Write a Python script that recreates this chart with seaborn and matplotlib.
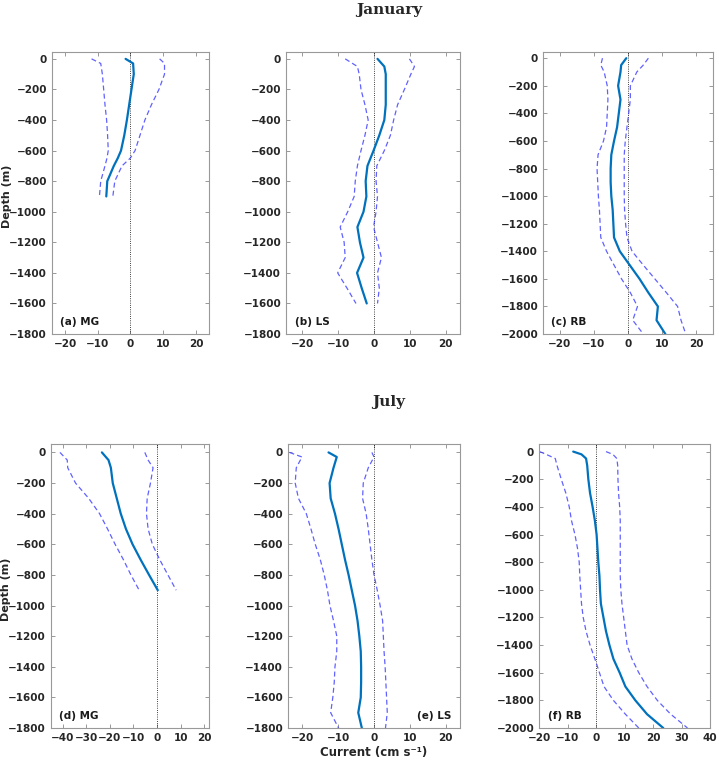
import matplotlib
matplotlib.use('Agg')
import matplotlib.pyplot as plt
import seaborn as sns

# Depth levels (m) and current (cm/s): mean profile, lower and upper bounds

# (a) MG, January
depth_a = [0, -30, -100, -200, -300, -400, -500, -600, -650, -700, -800, -900]
mean_a = [-1.5, 0.8, 1.0, 0.3, -0.4, -1.1, -1.9, -2.9, -3.9, -5.1, -7.1, -7.4]
low_a = [-11.9, -9.1, -8.6, -8.2, -7.8, -7.3, -7.0, -6.8, -7.2, -7.8, -9.1, -9.5]
high_a = [8.9, 10.4, 10.4, 8.7, 6.4, 4.4, 2.9, 1.4, -0.1, -2.6, -4.8, -5.4]

# (b) LS, January
depth_b = [0, -50, -100, -200, -300, -400, -500, -600, -700, -800, -900,
           -1000, -1100, -1200, -1300, -1400, -1500, -1600]
mean_b = [1.0, 2.9, 3.3, 3.3, 3.3, 2.9, 1.5, -0.1, -1.8, -2.3, -2.1,
          -2.9, -4.6, -3.9, -2.9, -4.7, -3.4, -2.0]
low_b = [-8.0, -4.6, -4.1, -3.6, -2.5, -1.6, -2.5, -3.6, -4.6, -5.2, -5.5,
         -7.3, -9.4, -8.3, -8.0, -10.1, -7.5, -5.0]
high_b = [9.9, 11.3, 10.3, 8.5, 6.6, 5.5, 4.6, 2.9, 0.8, 0.6, 1.0,
          0.6, -0.1, 1.0, 2.1, 1.0, 1.5, 1.0]

# (c) RB, January
depth_c = [0, -50, -100, -200, -300, -400, -500, -600, -700, -800, -900, -1000,
           -1100, -1200, -1300, -1400, -1500, -1600, -1700, -1800, -1900, -2000]
mean_c = [-0.5, -2.0, -2.2, -2.9, -2.2, -2.7, -3.2, -4.1, -4.9, -5.1, -5.1, -4.9,
          -4.5, -4.3, -4.1, -2.4, 0.5, 3.4, 6.0, 8.8, 8.4, 11.0]
low_c = [-7.5, -8.0, -7.0, -6.1, -5.9, -6.1, -6.3, -7.2, -8.8, -9.1, -8.9, -8.7,
         -8.4, -8.2, -8.0, -6.3, -4.1, -1.9, 0.7, 2.8, 1.4, 4.5]
high_c = [6.0, 4.5, 2.6, 0.7, 0.7, 0.2, -0.3, -0.8, -1.1, -1.1, -1.1, -1.1,
          -1.0, -0.7, -0.3, 1.2, 4.5, 7.9, 11.3, 14.6, 15.6, 17.0]

# (d) MG, July
depth_d = [0, -50, -100, -200, -300, -400, -500, -600, -700, -800, -900]
mean_d = [-23.4, -20.6, -19.6, -18.8, -17.1, -15.4, -13.2, -10.4, -7.0, -3.4, 0.3]
low_d = [-41.2, -38.1, -37.9, -34.6, -29.0, -24.4, -21.0, -17.8, -14.3, -11.1, -7.6]
high_d = [-5.2, -3.8, -1.7, -2.8, -4.2, -4.5, -3.8, -2.0, 1.1, 4.6, 8.1]

# (e) LS, July
depth_e = [0, -30, -100, -200, -300, -400, -500, -600, -700, -800, -900,
           -1000, -1100, -1200, -1300, -1400, -1500, -1600, -1700, -1800]
mean_e = [-12.7, -10.4, -11.3, -12.4, -12.1, -10.9, -9.9, -9.0, -8.1, -7.1, -6.2,
          -5.3, -4.6, -4.1, -3.7, -3.6, -3.6, -3.7, -4.4, -3.4]
low_e = [-23.6, -20.1, -21.7, -22.0, -21.1, -18.9, -17.6, -16.4, -15.0, -13.9, -13.0,
         -12.3, -11.3, -10.4, -10.4, -10.9, -11.1, -11.5, -12.1, -9.9]
high_e = [-0.6, 0.0, -1.6, -3.0, -3.2, -2.2, -1.6, -1.1, -0.6, 0.0, 0.9,
          1.7, 2.4, 2.6, 2.8, 3.1, 3.3, 3.5, 3.7, 3.2]

# (f) RB, July
depth_f = [0, -20, -50, -100, -200, -300, -400, -500, -600, -700, -800, -900, -1000,
           -1100, -1200, -1300, -1400, -1500, -1600, -1700, -1800, -1900, -2000]
mean_f = [-8.0, -5.1, -3.5, -3.1, -2.7, -2.1, -1.2, -0.4, 0.2, 0.5, 0.8, 1.2, 1.4,
          1.7, 2.6, 3.5, 4.7, 6.1, 8.3, 10.3, 13.8, 17.9, 23.6]
low_f = [-19.8, -17.5, -14.3, -13.7, -12.2, -10.6, -9.4, -8.6, -7.4, -6.5, -5.9, -5.7, -5.4,
         -5.1, -4.5, -3.5, -2.1, -0.4, 1.2, 2.8, 6.1, 10.3, 15.0]
high_f = [3.5, 5.9, 7.3, 7.6, 7.7, 7.9, 8.3, 8.5, 8.5, 8.5, 8.5, 8.5, 8.7,
          9.1, 9.7, 10.3, 10.9, 12.6, 15.0, 17.9, 21.5, 26.2, 32.1]

labels = ['(a) MG', '(b) LS', '(c) RB', '(d) MG', '(e) LS', '(f) RB']

sns.set_style('ticks')
plt.rcParams['font.family'] = ['DejaVu Sans']

fig = plt.figure(figsize=(7.19, 7.6), dpi=100)

panels = [
    (depth_a, mean_a, low_a, high_a, [0.0723, 0.5605, 0.2184, 0.3711], (-24, 24), (-1800, 45), range(-20, 21, 10)),
    (depth_b, mean_b, low_b, high_b, [0.3978, 0.5605, 0.2420, 0.3711], (-24.5, 24), (-1800, 45), range(-20, 21, 10)),
    (depth_c, mean_c, low_c, high_c, [0.7552, 0.5605, 0.2364, 0.3711], (-25, 25), (-2000, 45), range(-20, 21, 10)),
    (depth_d, mean_d, low_d, high_d, [0.0709, 0.0421, 0.2197, 0.3737], (-45, 22), (-1800, 55), range(-40, 21, 10)),
    (depth_e, mean_e, low_e, high_e, [0.4006, 0.0421, 0.2392, 0.3737], (-24, 24), (-1800, 55), range(-20, 21, 10)),
    (depth_f, mean_f, low_f, high_f, [0.7497, 0.0421, 0.2378, 0.3737], (-20, 40), (-2000, 55), range(-20, 41, 10)),
]

mean_color = '#0072BD'
bound_color = '#3a3aff'

for i, (depth, mean, low, high, pos, xlim, ylim, xticks) in enumerate(panels):
    ax = fig.add_axes(pos)
    ax.axvline(0, color='black', lw=0.6, ls=':', zorder=1)
    for vals in (low, high):
        sns.lineplot(x=vals, y=depth, orient='y', estimator=None, sort=False, ax=ax,
                     color=bound_color, lw=0.9, alpha=0.8, ls=(0, (4, 2.5)))
    sns.lineplot(x=mean, y=depth, orient='y', estimator=None, sort=False, ax=ax,
                 color=mean_color, lw=1.6)

    ax.set_xlim(*xlim)
    ax.set_ylim(*ylim)
    ax.set_xticks(list(xticks))
    ax.set_yticks(range(ylim[0], 1, 200))
    ax.tick_params(direction='in', length=3, width=0.6, top=True, right=True,
                   labelsize=7.5, colors='#888888', labelcolor='#262626')
    for lab in ax.get_xticklabels() + ax.get_yticklabels():
        lab.set_fontweight('bold')
    for sp in ax.spines.values():
        sp.set_color('#999999')
        sp.set_linewidth(0.8)
    ax.set_xlabel('')
    ax.set_ylabel('')

    if i == 4:
        ax.text(0.95, 0.025, labels[i], transform=ax.transAxes, ha='right', va='bottom',
                fontsize=7.5, fontweight='bold', color='#1a1a1a')
        ax.set_xlabel('Current (cm s⁻¹)', fontsize=8.5, fontweight='bold',
                      color='#262626', labelpad=2)
    else:
        ax.text(0.05, 0.025, labels[i], transform=ax.transAxes, ha='left', va='bottom',
                fontsize=7.5, fontweight='bold', color='#1a1a1a')
    if i in (0, 3):
        ax.set_ylabel('Depth (m)', fontsize=8, fontweight='bold', color='#262626')
        ax.yaxis.set_label_coords(-0.255, 0.49)

fig.text(0.541, 0.987, 'January', ha='center', va='center', fontsize=11,
         fontweight='bold', family='DejaVu Serif')
fig.text(0.541, 0.471, 'July', ha='center', va='center', fontsize=11,
         fontweight='bold', family='DejaVu Serif')

fig.savefig('out.png', dpi=100)
